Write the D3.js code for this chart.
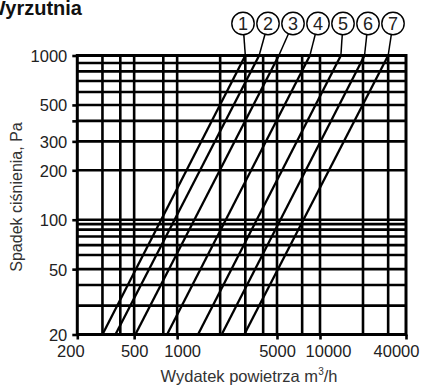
<!DOCTYPE html>
<html>
<head>
<meta charset="utf-8">
<script src="https://cdn.jsdelivr.net/npm/d3@7"></script>
<style>
  html, body { margin: 0; padding: 0; background: #fff; }
  svg { display: block; }
  text { font-family: "Liberation Sans", Arial, sans-serif; }
</style>
</head>
<body>
<svg id="chart" width="423" height="387"></svg>
<script>
// ---- data ----
const categories = ["1", "2", "3", "4", "5", "6", "7"];
const flowAt20Pa = [300, 370, 510, 850, 1400, 2050, 2950];       // m3/h at 20 Pa
const flowAt1000Pa = [3000, 3750, 5150, 8500, 14000, 20500, 30000]; // m3/h at 1000 Pa
const pressureEnds = [20, 1000];
const xTickLabels = [200, 500, 1000, 5000, 10000, 40000];
const yTickLabels = [1000, 500, 300, 200, 100, 50, 20];
const yExtraTicks = [400];
const xGridValues = [300, 400, 500, 800, 1000, 2000, 3000, 4000, 5000, 7500, 10000, 20000, 30000];
const yGridValues = [900, 800, 700, 600, 500, 400, 300, 200, 100, 94, 87, 79, 70, 61, 50, 40, 30];
const title = "Wyrzutnia";
const yTitle = "Spadek ciśnienia, Pa";

// ---- layout ----
const svg = d3.select("#chart");
const x = d3.scaleLog().domain([200, 40000]).range([77.3, 406]);
const y = d3.scaleLog().domain([20, 1000]).range([334.5, 55.5]);
const ink = "#000";
const txt = "#222";

// title (cut off at the left like the reference)
svg.append("text").attr("x", 82).attr("y", 15).attr("text-anchor", "end")
  .attr("font-size", 20).attr("font-weight", "bold").attr("fill", "#111").text(title);

// grid
const g = svg.append("g");
g.selectAll("line.v").data(xGridValues).join("line")
  .attr("x1", d => x(d)).attr("x2", d => x(d))
  .attr("y1", y(20)).attr("y2", y(1000))
  .attr("stroke", ink).attr("stroke-width", 2.6);
g.selectAll("line.h").data(yGridValues).join("line")
  .attr("x1", x(200)).attr("x2", x(40000))
  .attr("y1", d => y(d)).attr("y2", d => y(d))
  .attr("stroke", ink).attr("stroke-width", 2.6);

// axes
const yAxis = d3.axisLeft(y).tickValues(yTickLabels.concat(yExtraTicks))
  .tickSize(5).tickPadding(5)
  .tickFormat(d => yTickLabels.includes(d) ? String(d) : "");
const ya = svg.append("g").attr("transform", `translate(${x(200)},0)`).call(yAxis);
const xAxis = d3.axisBottom(x).tickValues(xTickLabels).tickSize(5).tickPadding(6)
  .tickFormat(d => String(d));
const xa = svg.append("g").attr("transform", `translate(0,${y(20)})`).call(xAxis);
[ya, xa].forEach(a => {
  a.select(".domain").remove();
  a.selectAll(".tick line").attr("stroke", ink).attr("stroke-width", 2.6);
  a.selectAll(".tick text").attr("font-size", 16.5).attr("fill", txt)
    .attr("font-family", "'Liberation Sans', Arial, sans-serif");
});
ya.selectAll(".tick text").attr("dy", "0.36em");
const xNudge = {200: -7, 1000: 5, 10000: 8, 40000: -10};
xa.selectAll(".tick text").attr("dx", d => xNudge[d] || 0);

// frame
svg.append("rect").attr("x", x(200)).attr("y", y(1000))
  .attr("width", x(40000) - x(200)).attr("height", y(20) - y(1000))
  .attr("fill", "none").attr("stroke", ink).attr("stroke-width", 3);

// characteristic lines
const lines = categories.map((c, i) => ({
  c, pts: [[flowAt20Pa[i], pressureEnds[0]], [flowAt1000Pa[i], pressureEnds[1]]]
}));
const lineGen = d3.line().x(d => x(d[0])).y(d => y(d[1]));
svg.append("g").selectAll("path").data(lines).join("path")
  .attr("d", d => lineGen(d.pts))
  .attr("fill", "none").attr("stroke", ink).attr("stroke-width", 2.3);

// numbered circles with leaders
const cx0 = 243, step = 25, cy = 23.5, r = 11.2;
const lab = svg.append("g");
lines.forEach((d, i) => {
  const cx = cx0 + i * step;
  const tx = x(d.pts[1][0]), ty = y(d.pts[1][1]);
  const ang = Math.atan2(ty - cy, tx - cx);
  lab.append("line")
    .attr("x1", cx + r * Math.cos(ang)).attr("y1", cy + r * Math.sin(ang))
    .attr("x2", tx).attr("y2", ty)
    .attr("stroke", ink).attr("stroke-width", 1.5);
  lab.append("circle").attr("cx", cx).attr("cy", cy).attr("r", r)
    .attr("fill", "#fff").attr("stroke", ink).attr("stroke-width", 1.4);
  lab.append("text").attr("x", cx).attr("y", cy + 6.5).attr("text-anchor", "middle")
    .attr("font-size", 18).attr("fill", txt).text(d.c);
});

// axis titles
svg.append("text").attr("transform", `translate(22,${(y(20) + y(1000)) / 2 + 2}) rotate(-90)`)
  .attr("text-anchor", "middle").attr("font-size", 16).attr("fill", "#333").text(yTitle);
const xt = svg.append("text").attr("x", 249).attr("y", 382).attr("text-anchor", "middle")
  .attr("font-size", 16.5).attr("fill", "#333");
xt.append("tspan").text("Wydatek powietrza m");
xt.append("tspan").attr("font-size", 10).attr("dy", -7).text("3");
xt.append("tspan").attr("dy", 7).text("/h");
</script>
</body>
</html>
